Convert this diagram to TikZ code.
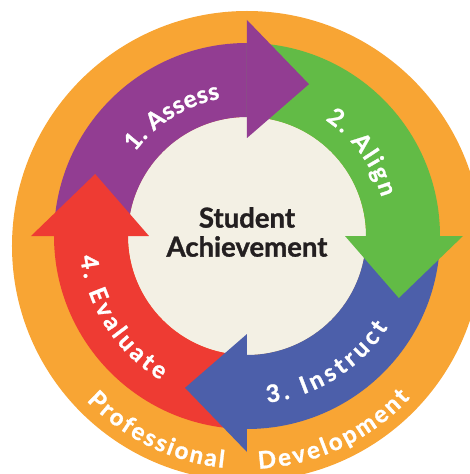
\documentclass[tikz,border=0pt]{standalone}
\usepackage{fontspec}
\setmainfont{Lato}[BoldFeatures={FakeBold=1.2}]
\usetikzlibrary{decorations.text}
\definecolor{pdorange}{RGB}{248,165,52}
\definecolor{assesspurple}{RGB}{146,61,146}
\definecolor{aligngreen}{RGB}{98,187,70}
\definecolor{instructblue}{RGB}{76,95,170}
\definecolor{evaluatered}{RGB}{238,59,51}
\definecolor{centrecream}{RGB}{243,240,228}
\definecolor{centreink}{RGB}{35,31,32}
\newcommand{\ringfont}{\bfseries\fontsize{24}{26}\selectfont}
\newcommand{\pdfont}{\bfseries\fontsize{24}{26}\selectfont}
\newcommand{\centrefont}{\bfseries\fontsize{27.5}{29}\selectfont}

\begin{document}
\begin{tikzpicture}[x=1pt,y=1pt,ringlabel/.style={decorate,decoration={text along path,text align=fit to path,text color=white,text={|\ringfont|#1}}},pdlabel/.style={decorate,decoration={text along path,text align=fit to path,text color=white,text={|\pdfont|#1}}}]
\useasboundingbox (-247,-238) rectangle (223,236);
\clip (-247,-238) rectangle (223,236);
\fill[pdorange] (0,-10) circle[radius=235];
\fill[centrecream] (0,0) circle[radius=119];
\foreach \col/\ang in {assesspurple/90,aligngreen/0,instructblue/-90,evaluatered/180}
  \fill[\col] (\ang+90:193) arc[start angle=\ang+90,end angle=\ang,radius=193] -- (\ang:119) arc[start angle=\ang,end angle=\ang+90,radius=119] -- cycle;
\foreach \col/\ang in {assesspurple/90,aligngreen/0,instructblue/-90,evaluatered/180}
  \fill[\col] (\ang:98) -- (\ang:216) -- (\ang-22.2:164) -- cycle;
\path[ringlabel=1. Assess] (143:140) arc[start angle=143,end angle=101,radius=140];
\path[ringlabel=2. Align] (56:140) arc[start angle=56,end angle=16,radius=140];
\path[ringlabel=3. Instruct] (-83:168) arc[start angle=-83,end angle=-33,radius=168];
\path[ringlabel=4. Evaluate] (187:168) arc[start angle=187,end angle=239,radius=168];
\path[pdlabel=Professional] (0,-10) ++(224:223) arc[start angle=224,end angle=264,radius=223];
\path[pdlabel=Development] (0,-10) ++(273:223) arc[start angle=273,end angle=317,radius=223];
\node[font=\centrefont,text=centreink,align=center] (goal) at (0,4) {Student\\Achievement};
\end{tikzpicture}
\end{document}
